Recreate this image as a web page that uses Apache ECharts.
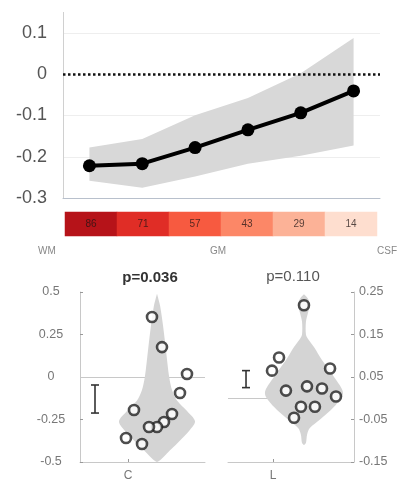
<!DOCTYPE html>
<html><head><meta charset="utf-8">
<script src="https://cdn.jsdelivr.net/npm/echarts@6/dist/echarts.min.js"></script>
<style>html,body{margin:0;padding:0;background:#fff}#c{width:406px;height:487px}</style>
</head><body><div id="c"></div>
<script>
// ---- top panel data ----
const cats = ['1','2','3','4','5','6'];
const meanVals  = [-0.222,-0.217,-0.178,-0.135,-0.094,-0.041];
const upperVals = [-0.178,-0.157,-0.100,-0.058, 0.002, 0.087];
const lowerVals = [-0.258,-0.275,-0.248,-0.217,-0.198,-0.173];
const heatVals  = [86,71,57,43,29,14];
const regionLabels = ['WM','GM','CSF'];
const topGridVals = [0.1,-0.1,-0.2];
// ---- bottom-left panel (C) ----
const cTitle = 'p=0.036';
const cVals   = [0.353,0.176,0.018,-0.094,-0.218,-0.265,-0.294,-0.294,-0.194,-0.359,-0.394];
const cJitter = [0.576,0.656,0.856,0.800,0.736,0.672,0.616,0.552,0.432,0.368,0.496];
const cViolinY = [0.49,0.42,0.30,0.15,0.00,-0.08,-0.14,-0.20,-0.26,-0.31,-0.38,-0.45,-0.49,-0.50];
const cViolinD = [0,0.08,0.16,0.24,0.32,0.40,0.53,0.79,1.00,0.87,0.58,0.26,0.08,0];
const cErr = [-0.047,-0.212];
// ---- bottom-right panel (L) ----
const lTitle = 'p=0.110';
const lVals   = [0.219,0.096,0.065,0.070,0.018,0.028,0.023,0.004,-0.020,-0.020,-0.046];
const lJitter = [0.603,0.405,0.349,0.810,0.460,0.627,0.746,0.857,0.579,0.690,0.524];
const lViolinY = [0.245,0.235,0.22,0.20,0.18,0.15,0.14,0.12,0.09,0.05,0.012,-0.02,-0.05,-0.07,-0.085,-0.105,-0.11];
const lViolinD = [0,0.10,0.15,0.10,0.05,0.05,0.10,0.26,0.46,0.77,1.00,0.77,0.41,0.15,0.08,0.05,0];
const lErr = [0.065,0.025];

const FONT = 'Liberation Sans, Arial, sans-serif';
const AX = '#c8c8c8';
const cTick = 0.384, cCenter = 0.616, cErrX = 0.12, cMaxHW = 0.304;
const lTick = 0.357, lCenter = 0.603, lErrX = 0.143, lMaxHW = 0.31;

function violin(ys, ds, center, maxHW, xi, yi){
  return {type:'custom', xAxisIndex:xi, yAxisIndex:yi, z:2, silent:true,
    data:[[center,0]],
    renderItem:function(params, api){
      const pts=[];
      for(let i=0;i<ys.length;i++) pts.push(api.coord([center+ds[i]*maxHW, ys[i]]));
      for(let i=ys.length-1;i>=0;i--) pts.push(api.coord([center-ds[i]*maxHW, ys[i]]));
      return {type:'polygon', shape:{points:pts, smooth:0.3}, style:{fill:'#d4d4d4', stroke:null}};
    }};
}
function errBar(x, lohi, xi, yi){
  return {type:'custom', xAxisIndex:xi, yAxisIndex:yi, z:3, silent:true,
    data:[[x, lohi[0], lohi[1]]],
    renderItem:function(params, api){
      const a=api.coord([api.value(0), api.value(1)]);
      const b=api.coord([api.value(0), api.value(2)]);
      const w=4, st={stroke:'#333', lineWidth:1.6};
      return {type:'group', children:[
        {type:'line', shape:{x1:a[0],y1:a[1],x2:b[0],y2:b[1]}, style:st},
        {type:'line', shape:{x1:a[0]-w,y1:a[1],x2:a[0]+w,y2:a[1]}, style:st},
        {type:'line', shape:{x1:b[0]-w,y1:b[1],x2:b[0]+w,y2:b[1]}, style:st}
      ]};
    }};
}
// horizontal reference line at value yv, from fraction f0 to f1 of the grid width
function hLine(xi, yi, yv, f0, f1, style, z){
  return {type:'custom', xAxisIndex:xi, yAxisIndex:yi, z:z, silent:true,
    data:[[0, yv]],
    renderItem:function(params, api){
      const cs=params.coordSys;
      const y=Math.round(api.coord([api.value(0), yv])[1])+0.5;
      return {type:'line', shape:{x1:cs.x+f0*cs.width, y1:y, x2:cs.x+f1*cs.width, y2:y}, style:style};
    }};
}
function pts(vals, jit){ return vals.map((v,i)=>[jit[i], v]); }

const chart = echarts.init(document.getElementById('c'), null, {renderer:'canvas'});
const series = [];
topGridVals.forEach(v=>series.push(hLine(0,0,v,0,1,{stroke:'#eeeeee', lineWidth:1},1)));
series.push(hLine(0,0,0,0,1,{stroke:'#111', lineWidth:2.5, lineDash:[2.5,2.5]},3));
series.push({type:'custom', xAxisIndex:0, yAxisIndex:0, z:2, silent:true,
  data:cats.map((c,i)=>[i, lowerVals[i], upperVals[i]]),
  renderItem:function(params, api){
    if(params.dataIndex!==0) return null;
    const up=[], lo=[];
    for(let i=0;i<cats.length;i++){
      up.push(api.coord([i, upperVals[i]]));
      lo.unshift(api.coord([i, lowerVals[i]]));
    }
    const cs=params.coordSys;
    const lx=Math.round(cs.x)+0.5;
    return {type:'group', children:[
      {type:'polygon', shape:{points:up.concat(lo)}, style:{fill:'#d8d8d8'}},
      {type:'line', shape:{x1:lx, y1:cs.y, x2:lx, y2:cs.y+cs.height}, style:{stroke:'#d0d0d0', lineWidth:1}}
    ]};
  }});
series.push({type:'line', xAxisIndex:0, yAxisIndex:0, data:meanVals, z:5,
  symbol:'circle', symbolSize:13, showAllSymbol:true,
  lineStyle:{color:'#000', width:4}, itemStyle:{color:'#000'}});
const heatIndex = series.length;
series.push({type:'heatmap', xAxisIndex:1, yAxisIndex:1,
  data:heatVals.map((v,i)=>[i,0,v]),
  label:{show:true, color:'rgba(30,20,20,0.75)', fontSize:10, fontFamily:FONT},
  itemStyle:{borderWidth:0}});
series.push(hLine(2,2,0,0,1,{stroke:AX, lineWidth:1},1));
series.push(violin(cViolinY, cViolinD, cCenter, cMaxHW, 2, 2));
series.push(errBar(cErrX, cErr, 2, 2));
series.push({type:'scatter', xAxisIndex:2, yAxisIndex:2, z:4, data:pts(cVals,cJitter),
  symbol:'circle', symbolSize:10, itemStyle:{color:'#fff', borderColor:'#222', borderWidth:2.6}});
series.push(hLine(3,3,0,0,lCenter,{stroke:AX, lineWidth:1},1));
series.push(violin(lViolinY, lViolinD, lCenter, lMaxHW, 3, 3));
series.push(errBar(lErrX, lErr, 3, 3));
series.push({type:'scatter', xAxisIndex:3, yAxisIndex:3, z:4, data:pts(lVals,lJitter),
  symbol:'circle', symbolSize:10, itemStyle:{color:'#fff', borderColor:'#222', borderWidth:2.6}});

const option = {
  animation:false,
  color:['#000'],
  backgroundColor:'#fff',
  textStyle:{fontFamily:FONT},
  grid:[
    {left:63, top:12, width:317, height:186, show:false},
    {left:65, top:212, width:312, height:24, show:false},
    {left:80, top:292, width:125, height:170, show:false},
    {left:228, top:292, width:126, height:170, show:false}
  ],
  xAxis:[
    {type:'category', gridIndex:0, data:cats, boundaryGap:true,
      axisLine:{onZero:false, lineStyle:{color:'#b8c0cc', width:1}},
      axisTick:{alignWithLabel:true, length:3, lineStyle:{color:'#b8c0cc'}},
      axisLabel:{show:false}, splitLine:{show:false}, splitArea:{show:false}},
    {type:'category', gridIndex:1, data:cats, show:false},
    {type:'value', gridIndex:2, min:0, max:1, splitLine:{show:false},
      axisLine:{onZero:false, lineStyle:{color:AX}},
      axisTick:{customValues:[cTick], inside:true, length:3, lineStyle:{color:'#999'}},
      axisLabel:{customValues:[cTick], formatter:()=>'C', color:'#777', fontSize:12, margin:8}},
    {type:'value', gridIndex:3, min:0, max:1, splitLine:{show:false},
      axisLine:{onZero:false, lineStyle:{color:AX}},
      axisTick:{customValues:[lTick], inside:true, length:3, lineStyle:{color:'#999'}},
      axisLabel:{customValues:[lTick], formatter:()=>'L', color:'#777', fontSize:12, margin:8}}
  ],
  yAxis:[
    {type:'value', gridIndex:0, min:-0.3, max:0.15, interval:0.1,
      axisLine:{show:false, onZero:false},
      axisTick:{show:false}, splitLine:{show:false}, splitArea:{show:false},
      axisLabel:{showMaxLabel:false, color:'#555', fontSize:18, margin:16,
        formatter:v=>String(parseFloat(v.toFixed(2)))}},
    {type:'category', gridIndex:1, data:['r'], show:false},
    {type:'value', gridIndex:2, min:-0.5, max:0.5, interval:0.25,
      axisLine:{show:true, onZero:false, lineStyle:{color:AX}},
      axisTick:{show:true, inside:true, length:3, lineStyle:{color:'#999'}},
      splitLine:{show:false},
      axisLabel:{color:'#777', fontSize:12.5, margin:29, align:'center',
        formatter:v=>String(parseFloat(v.toFixed(2)))}},
    {type:'value', gridIndex:3, position:'right', min:-0.15, max:0.25, interval:0.1,
      axisLine:{show:true, onZero:false, lineStyle:{color:AX}},
      axisTick:{show:true, inside:true, length:3, lineStyle:{color:'#999'}},
      splitLine:{show:false},
      axisLabel:{color:'#777', fontSize:12.5, margin:5, align:'left',
        formatter:v=>v.toFixed(2)}}
  ],
  visualMap:{show:false, seriesIndex:heatIndex, min:0, max:105,
    inRange:{color:['#fff5f0','#fee0d2','#fcbba1','#fc9272','#fb6a4a','#ef3b2c','#cb181d','#a50f15','#67000d']}},
  series:series,
  graphic:[
    {type:'text', left:38, top:246, style:{text:regionLabels[0], fill:'#888', font:'10px '+FONT}},
    {type:'text', left:210, top:246, style:{text:regionLabels[1], fill:'#888', font:'10px '+FONT}},
    {type:'text', left:377, top:246, style:{text:regionLabels[2], fill:'#888', font:'10px '+FONT}},
    {type:'text', x:150, y:278, style:{text:cTitle, fill:'#333', font:'bold 15px '+FONT, align:'center', verticalAlign:'middle'}},
    {type:'text', x:293, y:277, style:{text:lTitle, fill:'#555', font:'15px '+FONT, align:'center', verticalAlign:'middle'}}
  ]
};
chart.setOption(option);
</script></body></html>
